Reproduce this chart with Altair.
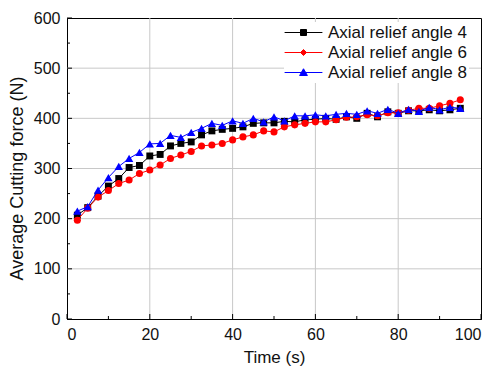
import altair as alt
import pandas as pd

times = [2.5, 5, 7.5, 10, 12.5, 15, 17.5, 20, 22.5, 25, 27.5, 30, 32.5, 35, 37.5, 40,
         42.5, 45, 47.5, 50, 52.5, 55, 57.5, 60, 62.5, 65, 67.5, 70, 72.5, 75, 77.5, 80,
         82.5, 85, 87.5, 90, 92.5, 95]
angle4 = [207, 222, 245, 265, 280, 302, 306, 325, 328, 345, 350, 353, 367, 375, 378, 380,
          383, 390, 391, 391, 394, 393, 397, 398, 400, 398, 403, 400, 410, 403, 413, 410,
          415, 415, 417, 415, 417, 420]
angle6 = [197, 221, 243, 256, 270, 277, 290, 297, 307, 320, 327, 334, 345, 347, 350, 357,
          363, 367, 375, 373, 383, 387, 390, 393, 393, 397, 402, 403, 407, 405, 411, 411,
          416, 420, 420, 425, 430, 437]
angle8 = [215, 224, 257, 282, 304, 320, 332, 349, 350, 366, 362, 372, 380, 390, 386, 395,
          390, 400, 393, 403, 395, 405, 405, 407, 405, 408, 410, 408, 415, 410, 418, 410,
          418, 414, 422, 417, 422, 420]

series_names = ["Axial relief angle 4", "Axial relief angle 6", "Axial relief angle 8"]
series_colors = ["#000000", "#ff0000", "#0000ff"]
point_shapes = ["square", "circle", "triangle-up"]
point_sizes = [48, 50, 70]
legend_paths = [
    "M-6.3,0H6.3M-1,-1H1V1H-1Z",
    "M-6.3,0H6.3M-1,0L0,-1L1,0L0,1Z",
    "M-6.3,0H6.3M0,-1.25L1.3,1H-1.3Z",
]

x_major = [0, 20, 40, 60, 80, 100]
x_minor = [10, 30, 50, 70, 90]
x_grid = [20, 40, 60, 80]
y_major = [0, 100, 200, 300, 400, 500, 600]
y_minor = [50, 150, 250, 350, 450, 550]
y_grid = [100, 200, 300, 400, 500]

rows = []
for name, vals in zip(series_names, [angle4, angle6, angle8]):
    for t, v in zip(times, vals):
        rows.append({"time": t, "force": v, "series": name})
df = pd.DataFrame(rows)

FONT = "Liberation Sans"
W, H = 414, 301
xs = alt.Scale(domain=[0, 100], nice=False, zero=False)
ys = alt.Scale(domain=[0, 600], nice=False, zero=False)

xaxis = alt.Axis(title="Time (s)", values=x_major, format="d", labelPadding=7,
                 titlePadding=7, titleFontSize=17)
yaxis = alt.Axis(title="Average Cutting force (N)", values=y_major, format="d",
                 labelPadding=7, titleFontSize=18, titleX=-50, titleY=160,
                 titleBaseline="middle")

def X(field):
    return alt.X(field, scale=xs, axis=xaxis)

def Y(field):
    return alt.Y(field, scale=ys, axis=yaxis)

xgrid = alt.Chart(pd.DataFrame({"v": x_grid})).mark_rule(color="#c8c8c8", strokeWidth=1).encode(
    x=X("v:Q"))
ygrid = alt.Chart(pd.DataFrame({"v": y_grid})).mark_rule(color="#c8c8c8", strokeWidth=1).encode(
    y=Y("v:Q"))

xt1 = alt.Chart(pd.DataFrame({"v": x_major})).mark_rule(color="black", strokeWidth=1).encode(
    x=X("v:Q"), y=alt.value(H), y2=alt.value(H - 5))
xt2 = alt.Chart(pd.DataFrame({"v": x_minor})).mark_rule(color="black", strokeWidth=1).encode(
    x=X("v:Q"), y=alt.value(H), y2=alt.value(H - 3))
yt1 = alt.Chart(pd.DataFrame({"v": y_major})).mark_rule(color="black", strokeWidth=1).encode(
    y=Y("v:Q"), x=alt.value(0), x2=alt.value(5))
yt2 = alt.Chart(pd.DataFrame({"v": y_minor})).mark_rule(color="black", strokeWidth=1).encode(
    y=Y("v:Q"), x=alt.value(0), x2=alt.value(3))

series_layers = []
for name, col, shp, sz in zip(series_names, series_colors, point_shapes, point_sizes):
    sub = alt.Chart(df).transform_filter(alt.datum.series == name)
    series_layers.append(
        sub.mark_line(strokeWidth=1, color=col).encode(x=X("time:Q"), y=Y("force:Q"))
    )
    series_layers.append(
        sub.mark_point(filled=True, opacity=1, shape=shp, size=sz, color=col)
        .encode(x=X("time:Q"), y=Y("force:Q"))
    )

leg_spec = dict(title=None, orient="none", legendX=217, legendY=4, fillColor="white",
                padding=2, symbolOffset=9, labelOffset=16, rowPadding=2,
                labelFont=FONT, labelFontSize=17, labelColor="#111",
                symbolSize=36, symbolStrokeWidth=1, symbolOpacity=1, labelLimit=300)
legend_layer = alt.Chart(df).mark_point(filled=True, opacity=0).encode(
    x=X("time:Q"),
    y=Y("force:Q"),
    shape=alt.Shape("series:N", scale=alt.Scale(domain=series_names, range=legend_paths),
                    legend=alt.Legend(**leg_spec)),
    fill=alt.Fill("series:N", scale=alt.Scale(domain=series_names, range=series_colors),
                  legend=alt.Legend(**leg_spec)),
    stroke=alt.Stroke("series:N", scale=alt.Scale(domain=series_names, range=series_colors),
                      legend=alt.Legend(**leg_spec)),
)

chart = alt.layer(xgrid, ygrid, *series_layers, xt1, xt2, yt1, yt2, legend_layer).properties(
    width=W, height=H,
    background="white",
    padding={"left": 59, "top": 10, "right": 9, "bottom": 48},
    autosize=alt.AutoSizeParams(type="none"),
).configure_view(stroke="black", strokeWidth=1).configure_axis(
    grid=False, ticks=False, domainColor="black", domainWidth=1,
    labelFont=FONT, labelFontSize=16, labelColor="#111",
    titleFont=FONT, titleFontWeight="normal", titleColor="#111",
)

chart.save("out.html", embed_options={"renderer": "svg", "actions": False})
